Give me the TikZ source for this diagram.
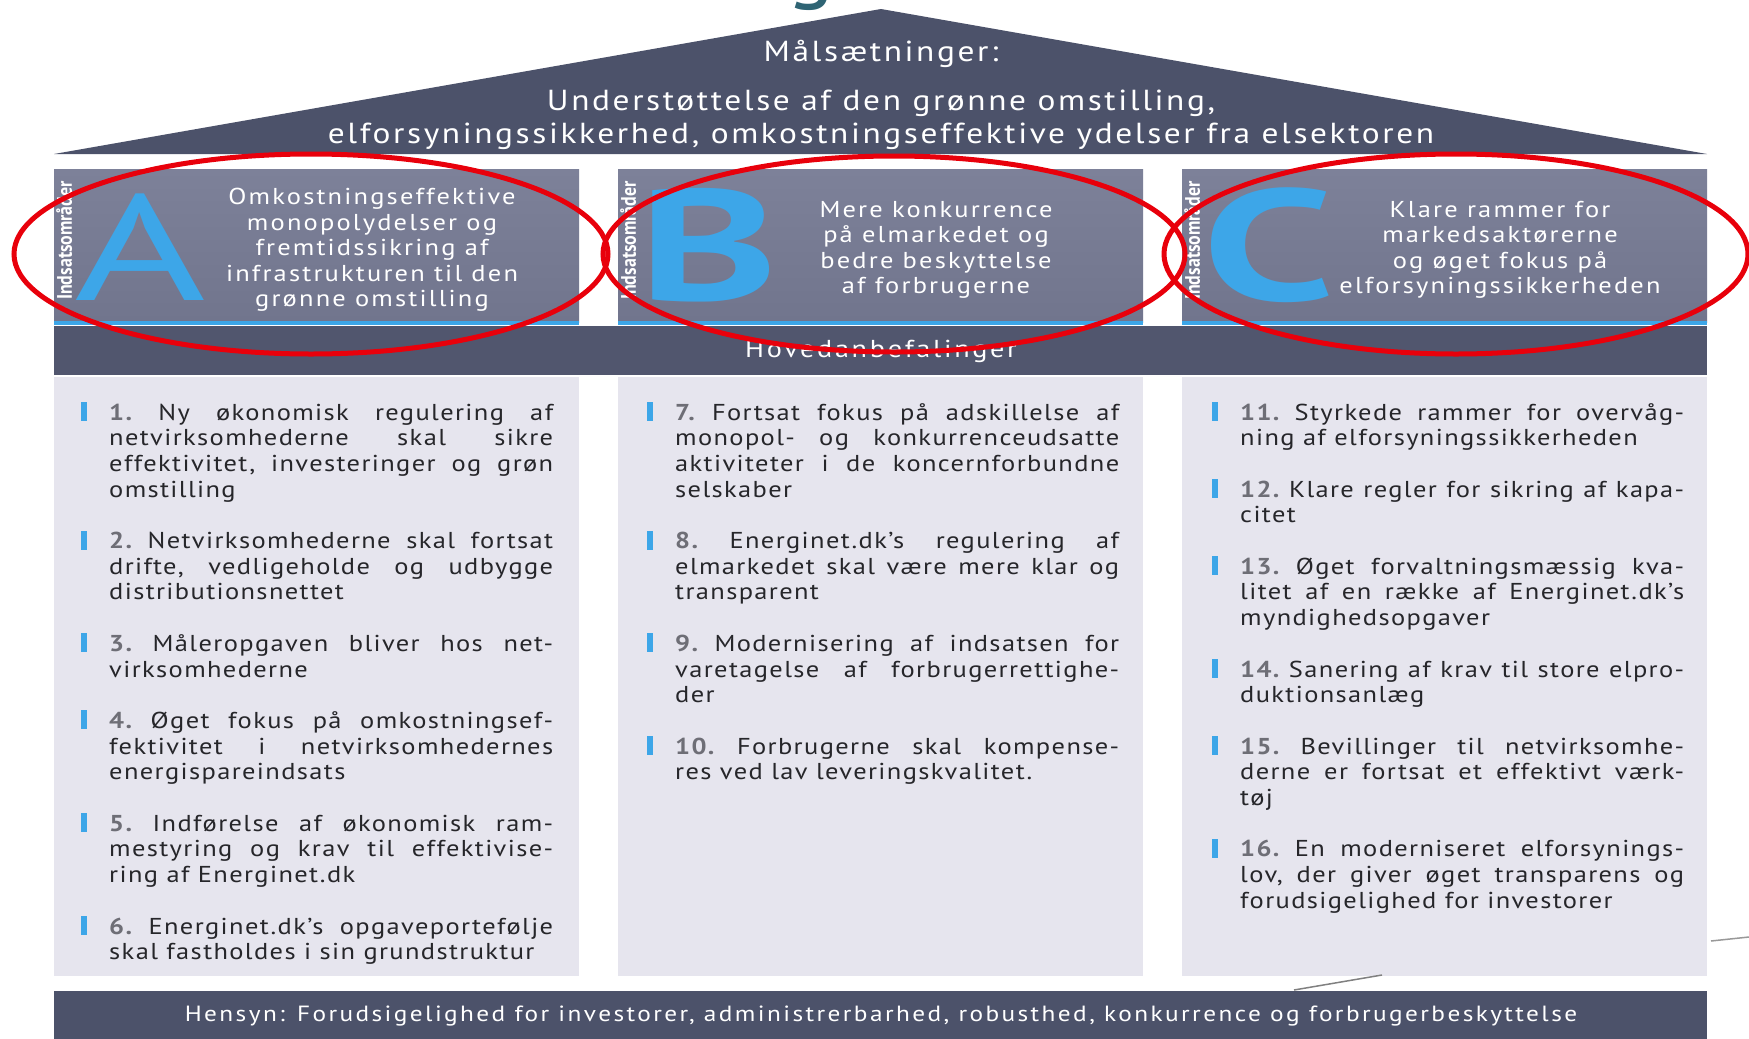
\documentclass[tikz,border=0pt]{standalone}
\usepackage{fontspec}
\setmainfont{PT Sans}
\newfontfamily\roofFont[FakeStretch=1.15,LetterSpace=9]{PT Sans}
\newfontfamily\headFont[FakeStretch=1.15,LetterSpace=9.5]{PT Sans}
\newfontfamily\itemFont[FakeStretch=1.15,LetterSpace=6]{PT Sans}
\newfontfamily\bandFont[FakeStretch=1.15,LetterSpace=11]{PT Sans}
\newfontfamily\tagFont[FakeStretch=0.85]{PT Sans}
\newfontfamily\bigFont[FakeStretch=1.5]{PT Sans}
\usetikzlibrary{positioning}

\definecolor{roofgray}{HTML}{4C526A}
\definecolor{boxtop}{HTML}{7D8199}
\definecolor{boxbottom}{HTML}{71758D}
\definecolor{bandgray}{HTML}{51566E}
\definecolor{panelgray}{HTML}{E6E5EE}
\definecolor{sky}{HTML}{3DA6E8}
\definecolor{ink}{HTML}{26262A}
\definecolor{numgray}{HTML}{6E6E76}
\definecolor{ringred}{HTML}{E8000B}
\definecolor{titleteal}{HTML}{2F6474}

\tikzset{
  roof label/.style={text=white,inner sep=0,font=\roofFont\fontsize{29}{33}\selectfont},
  head label/.style={text=white,inner sep=0,align=center,font=\headFont\fontsize{23}{25.4}\selectfont},
  big letter/.style={text=sky,inner sep=0,font=\bigFont\fontsize{158}{158}\selectfont},
  area tag/.style={text=white,inner sep=0,rotate=90,font=\tagFont\bfseries\fontsize{21}{21}\selectfont},
  item list/.style={text=ink,inner sep=0,text width=444pt,align=justify,font=\itemFont\fontsize{23}{25.7}\selectfont},
  band label/.style={text=white,inner sep=0,font=\bandFont\fontsize{22}{26}\selectfont},
  ring/.style={draw=ringred,line width=5pt},
}
\newcommand{\listsetup}{\frenchspacing\tolerance=10000\hyphenpenalty=10000\emergencystretch=40pt\setlength{\parskip}{25.7pt}}
\newcommand{\itm}[2]{\noindent\llap{\textcolor{sky}{\rule[-1pt]{6pt}{19pt}}\hspace{22pt}}{\bfseries\color{numgray}#1} #2\par}

\begin{document}
\begin{tikzpicture}[x=1pt,y=-1pt]
\useasboundingbox (0,0) rectangle (1749,1039);
\fill[white] (0,0) rectangle (1749,1039);

% roof
\begin{scope}
  \clip (0,0) rectangle (1749,12);
  \node[text=titleteal,inner sep=0,anchor=base,font=\fontsize{90}{90}\selectfont] (titleg) at (811,-9) {g};
\end{scope}
\fill[roofgray] (54,154) -- (881,9) -- (1707,154) -- cycle;
\node[roof label,anchor=base] (goal) at (881,61) {Målsætninger:};
\node[roof label,anchor=base] (goalA) at (881,110) {Understøttelse af den grønne omstilling,};
\node[roof label,anchor=base] (goalB) at (881,143) {elforsyningssikkerhed, omkostningseffektive ydelser fra elsektoren};

% indsatsomraader
\foreach \x/\L/\wt/\desc in {54/A/{\mdseries\fontsize{150}{150}\selectfont}/{Omkostningseffektive\\monopolydelser og\\fremtidssikring af\\infrastrukturen til den\\grønne omstilling},
    618/B/\bfseries/{Mere konkurrence\\på elmarkedet og\\bedre beskyttelse\\af forbrugerne},
    1182/C/\bfseries/{Klare rammer for\\markedsaktørerne\\og øget fokus på\\elforsyningssikkerheden}}{
  \shade[top color=boxtop,bottom color=boxbottom] (\x,169) rectangle (\x+525,322);
  \draw[sky,line width=4pt] (\x,323) -- (\x+525,323);
  \fill[panelgray] (\x,377) rectangle (\x+525,976);
  \node[area tag,anchor=north east] (tag\L) at (\x+2,181) {Indsatsområder};
  \node[big letter,anchor=base west] (letter\L) at (\x+20,300) {\wt\L};
  \node[head label] (head\L) at (\x+318,250) {\desc};
}
\fill[bandgray] (54,326) rectangle (1707,375);
\node[band label,anchor=base,font=\bandFont\fontsize{24.5}{28}\selectfont] (hoved) at (881,357) {Hovedanbefalinger};

% anbefalinger
\node[item list,anchor=base west] (listA) at (109,420) {\listsetup
  \itm{1.}{Ny økonomisk regulering af\linebreak netvirksomhederne skal sikre\linebreak effektivitet, investeringer og grøn\linebreak omstilling}
  \itm{2.}{Netvirksomhederne skal fortsat\linebreak drifte, vedligeholde og udbygge\linebreak distributionsnettet}
  \itm{3.}{Måleropgaven bliver hos net-\linebreak virksomhederne}
  \itm{4.}{Øget fokus på omkostningsef-\linebreak fektivitet i netvirksomhedernes\linebreak energispareindsats}
  \itm{5.}{Indførelse af økonomisk ram-\linebreak mestyring og krav til effektivise-\linebreak ring af Energinet.dk}
  \itm{6.}{Energinet.dk’s opgaveportefølje\linebreak skal fastholdes i sin grundstruktur}};
\node[item list,anchor=base west] (listB) at (675,420) {\listsetup
  \itm{7.}{Fortsat fokus på adskillelse af\linebreak monopol- og konkurrenceudsatte\linebreak aktiviteter i de koncernforbundne\linebreak selskaber}
  \itm{8.}{Energinet.dk’s regulering af\linebreak elmarkedet skal være mere klar og\linebreak transparent}
  \itm{9.}{Modernisering af indsatsen for\linebreak varetagelse af forbrugerrettighe-\linebreak der}
  \itm{10.}{Forbrugerne skal kompense-\linebreak res ved lav leveringskvalitet.}};
\node[item list,anchor=base west] (listC) at (1240,420) {\listsetup
  \itm{11.}{Styrkede rammer for overvåg-\linebreak ning af elforsyningssikkerheden}
  \itm{12.}{Klare regler for sikring af kapa-\linebreak citet}
  \itm{13.}{Øget forvaltningsmæssig kva-\linebreak litet af en række af Energinet.dk’s\linebreak myndighedsopgaver}
  \itm{14.}{Sanering af krav til store elpro-\linebreak duktionsanlæg}
  \itm{15.}{Bevillinger til netvirksomhe-\linebreak derne er fortsat et effektivt værk-\linebreak tøj}
  \itm{16.}{En moderniseret elforsynings-\linebreak lov, der giver øget transparens og\linebreak forudsigelighed for investorer}};

% hensyn
\fill[roofgray] (54,991) rectangle (1707,1039);
\node[band label,anchor=base] (hensyn) at (881,1021) {Hensyn: Forudsigelighed for investorer, administrerbarhed, robusthed, konkurrence og forbrugerbeskyttelse};
\draw[gray,line width=1.5pt] (1294,990) -- (1382,975);
\draw[gray!80,line width=1.5pt] (1711,941) -- (1749,937);

% markering
\draw[ring] (311,254) ellipse [x radius=297pt,y radius=100pt];
\draw[ring] (894,254) ellipse [x radius=291pt,y radius=98pt];
\draw[ring] (1456,254) ellipse [x radius=292pt,y radius=100pt];
\end{tikzpicture}
\end{document}
